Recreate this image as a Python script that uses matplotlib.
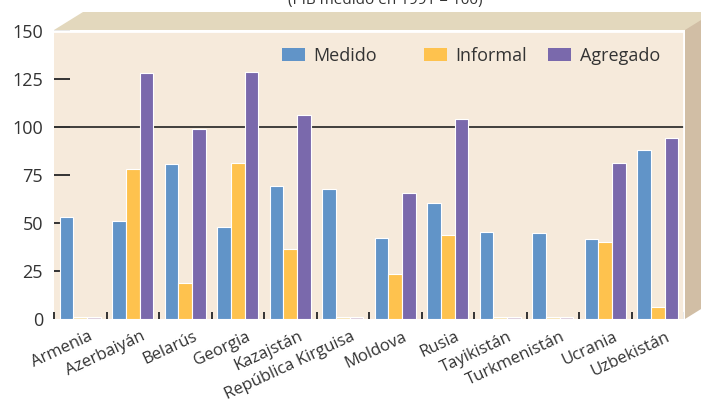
import numpy as np
import matplotlib
matplotlib.use("Agg")
from matplotlib import pyplot as plt
from matplotlib.patches import Polygon, Patch

plt.rcParams['font.family'] = ['Open Sans', 'DejaVu Sans']

paises = ["Armenia", "Azerbaiyán", "Belarús", "Georgia", "Kazajstán",
          "República Kirguisa", "Moldova", "Rusia", "Tayikistán",
          "Turkmenistán", "Ucrania", "Uzbekistán"]
medido = [53, 51, 80.5, 48, 69.5, 67.5, 42, 60.5, 45.5, 45, 41.5, 88]
informal = [0, 78, 18.5, 81.5, 36.5, 0, 23.5, 43.5, 0, 0, 40, 6.5]
agregado = [0, 128, 99, 128.5, 106, 0, 65.5, 104, 0, 0, 81, 94.5]
series = ["Medido", "Informal", "Agregado"]
colores = ["#6194C8", "#FEC24E", "#7A69AC"]
palidos = ["#C9DAEC", "#F7E4B5", "#DCCDDC"]
titulo = "(PIB medido en 1991 = 100)"

W, H = 701, 399
fig = plt.figure(figsize=(W / 100, H / 100), dpi=100)
fig.patch.set_facecolor("white")


def px(x, y):
    return (x / W, 1 - y / H)


# caja 3D: banda superior y lateral derecho
fig.patches.append(Polygon([px(54, 30), px(83, 12), px(730, 12), px(701, 30)],
                           closed=True, transform=fig.transFigure,
                           facecolor="#E3D8BD", edgecolor="none", zorder=0))
fig.patches.append(Polygon([px(685, 30), px(714, 12), px(714, 301), px(685, 319)],
                           closed=True, transform=fig.transFigure,
                           facecolor="#D1BEA5", edgecolor="none", zorder=0))

ax = fig.add_axes([54 / W, (H - 319) / H, 630 / W, (319 - 31) / H])
ax.set_facecolor("#F6EADB")

x = np.arange(len(paises))
w = 0.26
for i, (vals, c, p) in enumerate(zip([medido, informal, agregado], colores, palidos)):
    vals = np.array(vals, dtype=float)
    hs = np.where(vals > 0, vals, 0.8)
    cs = [c if v > 0 else p for v in vals]
    ax.bar(x + (i - 1) * w, hs, width=w, color=cs, edgecolor="white",
           linewidth=0.8, zorder=2)

ax.axhline(100, color="#222222", linewidth=1.2, zorder=1)

ax.set_xlim(-0.5, len(paises) - 0.5)
ax.set_ylim(0, 150)
ax.set_yticks([0, 25, 50, 75, 100, 125, 150])
ax.tick_params(axis="y", direction="in", length=11.5, width=1.4,
               color="#333333", labelsize=13, labelcolor="#333333", pad=8)
ax.yaxis.get_major_ticks()[0].tick1line.set_visible(False)

ax.set_xticks(np.arange(-0.5, len(paises)), minor=True)
ax.tick_params(axis="x", which="minor", direction="in", length=5,
               width=1.4, color="#333333")
ax.set_xticks(x + 0.15)
ax.set_xticklabels(paises, rotation=25, ha="right", rotation_mode="anchor",
                   fontsize=12, color="#333333")
ax.tick_params(axis="x", which="major", length=0, pad=7)

for s in ["left", "bottom"]:
    ax.spines[s].set_visible(False)
for s in ["top", "right"]:
    ax.spines[s].set_color("white")
    ax.spines[s].set_linewidth(2)

# una leyenda por serie, colocadas como en el original
starts = [282, 424, 548]
for s, c, x0 in zip(series, colores, starts):
    leg = ax.legend(handles=[Patch(facecolor=c, edgecolor="none", label=s)],
                    loc="upper left", bbox_to_anchor=((x0 - 54) / 630, (319 - 47) / 288),
                    frameon=False, fontsize=13, handlelength=1.3, handleheight=0.75,
                    handletextpad=0.45, labelcolor="#333333",
                    borderpad=0, borderaxespad=0)
    ax.add_artist(leg)
ax.legend_ = None

fig.text(385 / W, 1 - 4 / H, titulo, ha="center", va="baseline",
         fontsize=11, color="#333333")

fig.savefig("out.png", dpi=100)
